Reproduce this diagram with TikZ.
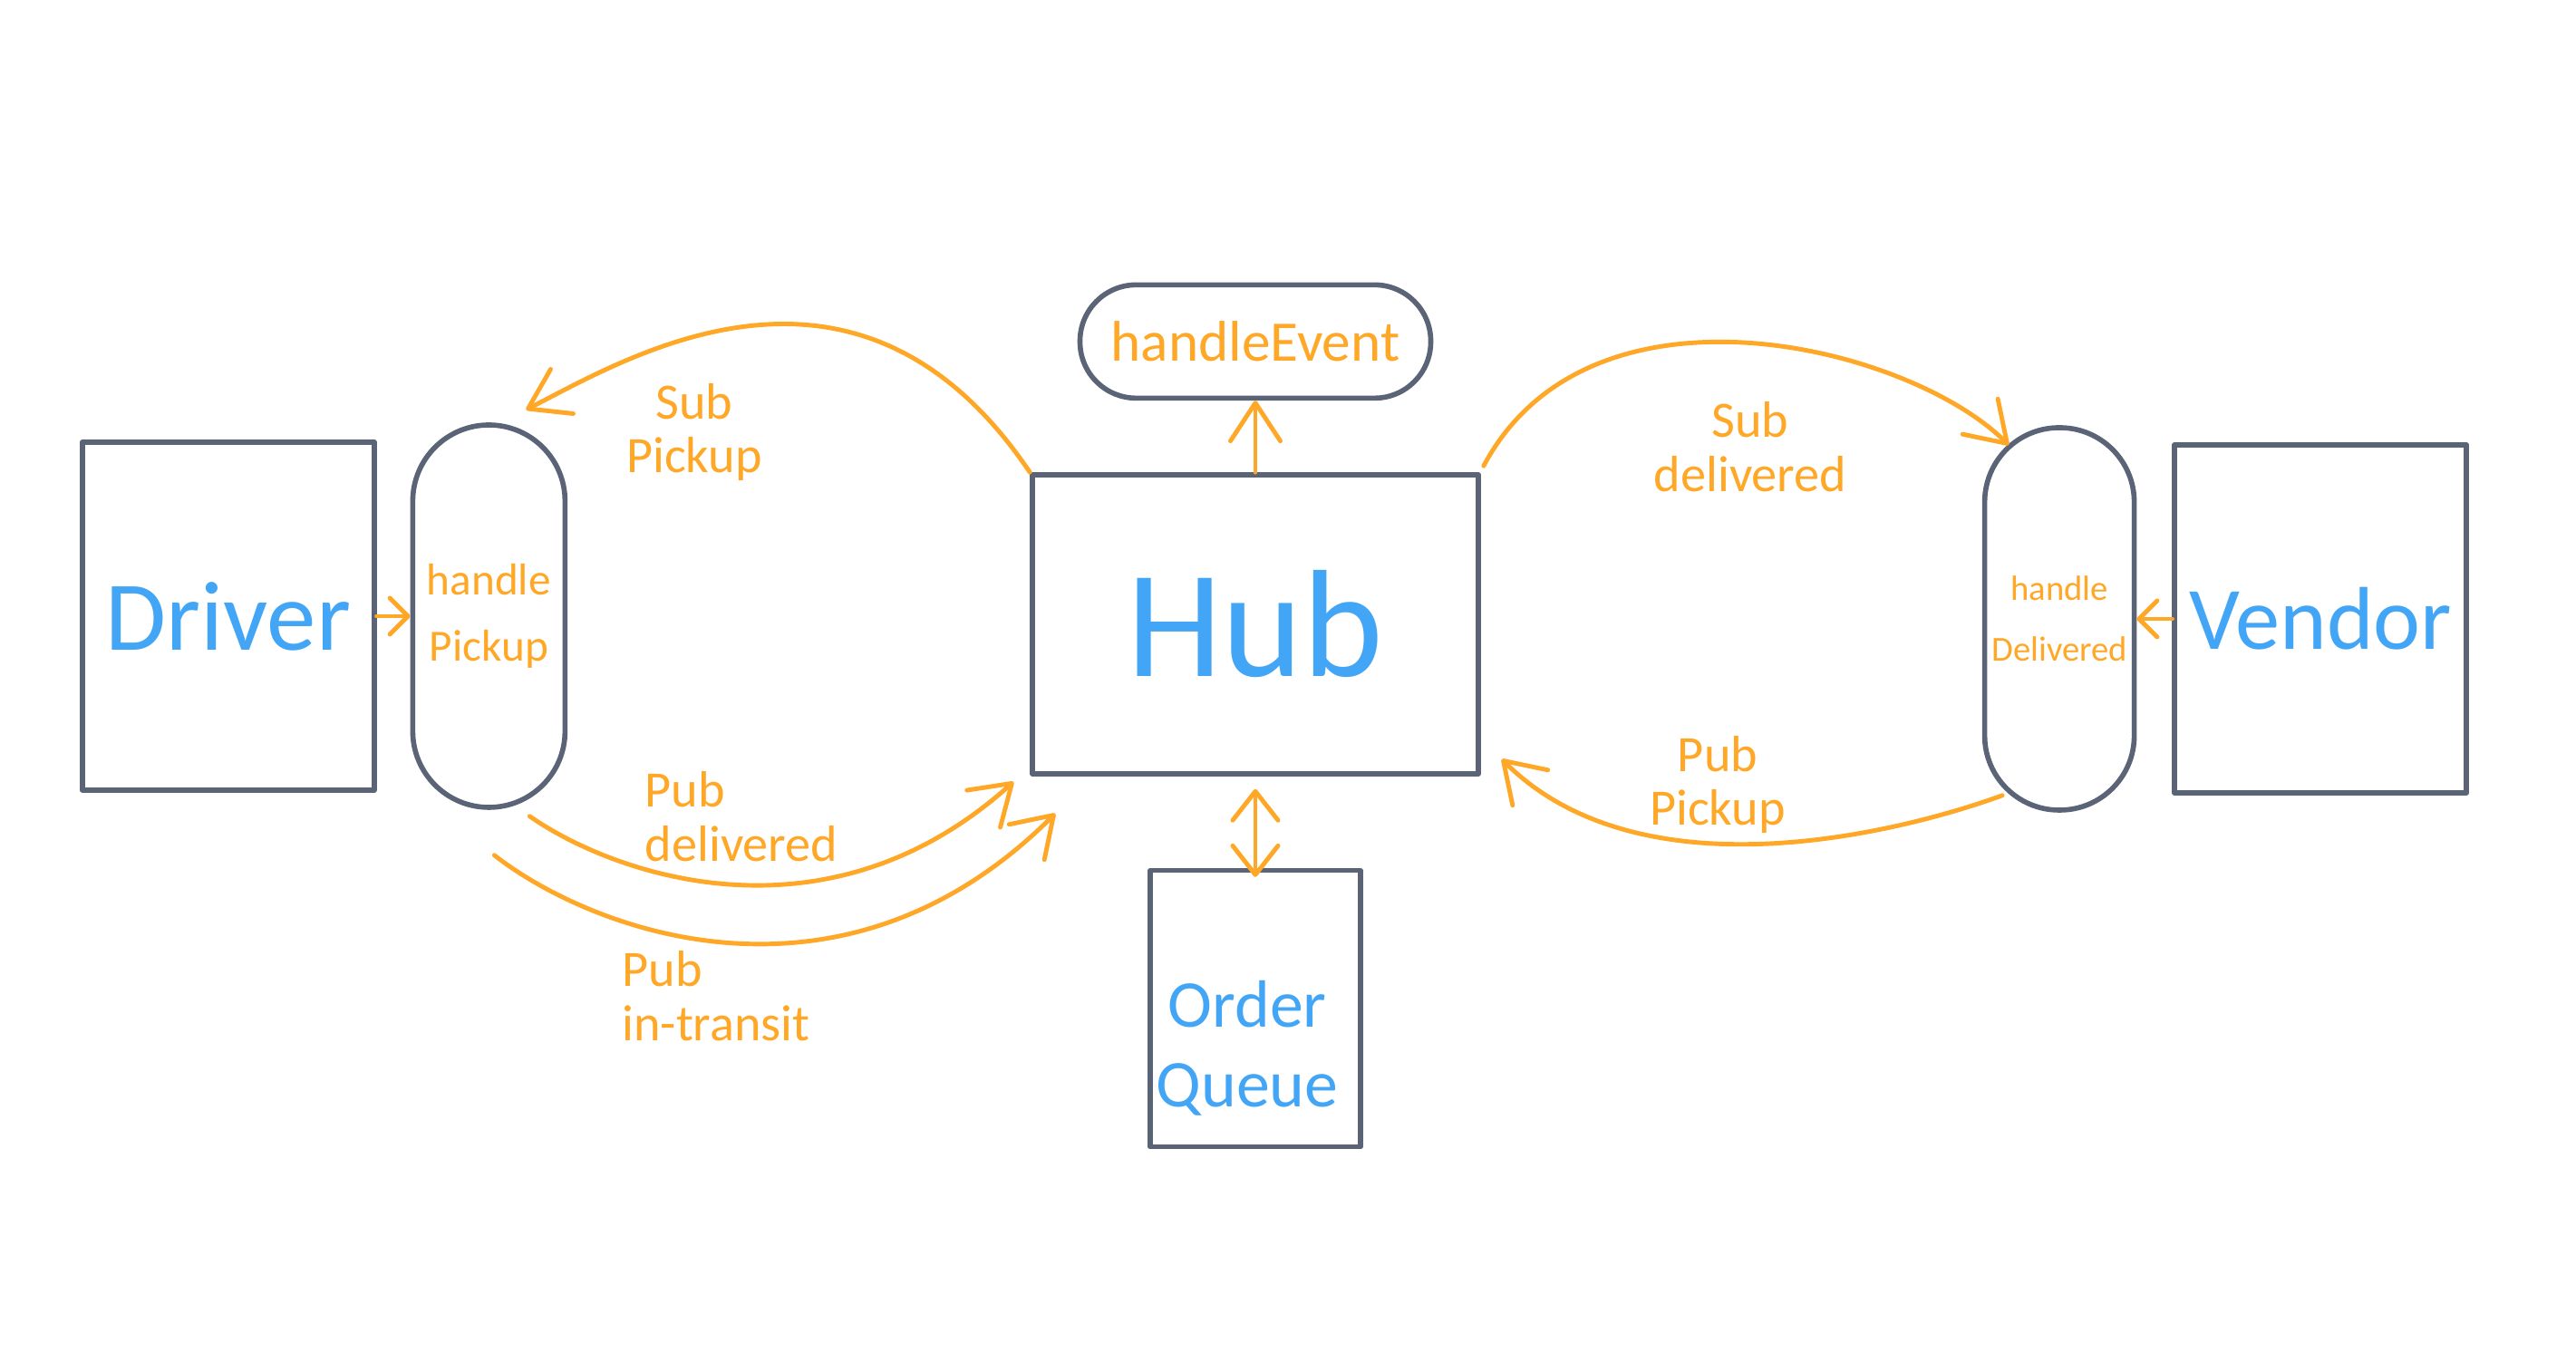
\documentclass[tikz,border=0pt]{standalone}
\usepackage{fontspec}
\setmainfont{Carlito}
\usepackage{tikz}
\usetikzlibrary{positioning, arrows.meta}

\definecolor{penorange}{HTML}{FFA726}
\definecolor{penblue}{HTML}{42A5F5}
\definecolor{pengray}{HTML}{5B6376}

\begin{document}
\begin{tikzpicture}[
        % Style definitions
        block/.style={
            rectangle,
            draw=pengray,
            line width=1.6pt,
            line join=round,
            inner sep=2pt,
            text=penblue,
            align=center
        },
        pill/.style={
            rectangle,
            draw=pengray,
            line width=1.6pt,
            inner sep=1pt,
            text=penorange,
            align=center
        },
        note/.style={
            text=penorange,
            align=center,
            font=\fontsize{16}{17}\selectfont
        },
        arrow/.style={
            draw=penorange,
            line width=1.4pt,
            line cap=round,
            line join=round,
            -{Straight Barb[length=0.42cm, width=0.55cm, round]}
        },
        shortarrow/.style={
            arrow,
            -{Straight Barb[length=0.2cm, width=0.4cm, round]}
        },
        twoway/.style={
            arrow,
            {Straight Barb[length=0.32cm, width=0.5cm, round]}-{Straight Barb[length=0.32cm, width=0.5cm, round]}
        }
    ]

        % ==========================================
        % Canvas
        % ==========================================
        \path [use as bounding box, fill=white] (0,0) rectangle (28.42,15.13);

        % ==========================================
        % Nodes / Blocks Placement
        % ==========================================
        % Central hub
        \node (hub) [block, minimum width=4.92cm, minimum height=3.30cm,
            font=\fontsize{48}{48}\selectfont] at (13.85,8.24) {Hub};

        % Event handler above the hub
        \node (event) [pill, rounded corners=0.62cm, minimum width=3.87cm,
            minimum height=1.25cm, font=\fontsize{18}{20}\selectfont,
            above=0.79cm of hub] {handleEvent};

        % Order queue below the hub
        \node (queue) [block, minimum width=2.32cm, minimum height=3.05cm,
            below=1.01cm of hub] {};
        \node (queuetext) [text=penblue, align=center,
            font=\fontsize{21}{25}\selectfont]
            at ([xshift=-0.09cm, yshift=-0.44cm]queue.center) {Order\\Queue};

        % Driver side
        \node (pickup) [pill, rounded corners=0.84cm, minimum width=1.68cm,
            minimum height=4.22cm, font=\fontsize{14}{21}\selectfont,
            left=5.10cm of hub, yshift=0.09cm] {handle\\Pickup};
        \node (driver) [block, minimum width=3.22cm, minimum height=3.84cm,
            font=\fontsize{31}{34}\selectfont, left=0.37cm of pickup] {Driver};

        % Vendor side
        \node (delivered) [pill, rounded corners=0.82cm, minimum width=1.65cm,
            minimum height=4.22cm, font=\fontsize{11}{19}\selectfont,
            right=5.53cm of hub, yshift=0.06cm] {handle\\Delivered};
        \node (vendor) [block, minimum width=3.22cm, minimum height=3.84cm,
            font=\fontsize{28}{32}\selectfont, right=0.39cm of delivered] {Vendor};

        % Topic labels
        \node (subpickup) [note] at (7.66,10.36) {Sub\\Pickup};
        \node (subdelivered) [note] at (19.31,10.20) {Sub\\delivered};
        \node (pubdelivered) [note, align=left] at (8.18,6.12) {Pub\\delivered};
        \node (pubtransit) [note, align=left] at (7.90,4.14) {Pub\\in-transit};
        \node (pubpickup) [note] at (18.95,6.47) {Pub\\Pickup};

        % ==========================================
        % Connections / Arrows
        % ==========================================
        % Driver into handlePickup
        \draw [shortarrow] (driver.east) -- (driver.east -| pickup.west);

        % Hub up to handleEvent
        \draw [arrow] (hub.north) -- (event.south);

        % Hub <-> Order Queue
        \draw [twoway] ([yshift=-0.14cm]hub.south) -- ([yshift=-0.1cm]queue.north);

        % Sub pickup (Hub over to handlePickup)
        \draw [arrow] (hub.north west)
            .. controls +(124:3.4) and +(27:1.25) .. ([shift={(0.41,0.14)}]pickup.north);

        % Sub delivered (Hub over to handleDelivered)
        \draw [arrow] ([shift={(0.03,0.07)}]hub.north east)
            .. controls +(62:2.5) and +(135:1.55) .. ([shift={(-0.56,-0.22)}]delivered.north);

        % Pub delivered and Pub in-transit (handlePickup back to Hub)
        \draw [arrow] ([shift={(0.45,-0.07)}]pickup.south)
            .. controls +(-35:1.1) and +(222:2.8) .. ([shift={(-0.18,-0.06)}]hub.south west);
        \draw [arrow] ([shift={(0.06,-0.50)}]pickup.south)
            .. controls +(-38:1.35) and +(225:3.33) .. ([shift={(0.28,-0.41)}]hub.south west);

        % Pub pickup (handleDelivered back to Hub)
        \draw [arrow] ([shift={(-0.63,0.19)}]delivered.south)
            .. controls +(200:1.2) and +(-45:2.17) .. ([shift={(0.23,0.19)}]hub.south east);

        % Vendor into handleDelivered
        \draw [shortarrow] (vendor.west) -- (vendor.west -| delivered.east);

    \end{tikzpicture}
\end{document}
